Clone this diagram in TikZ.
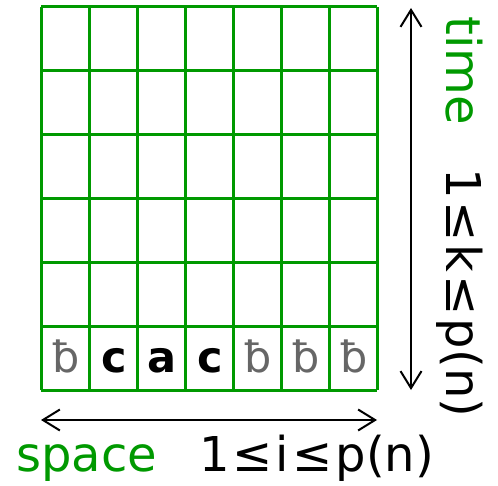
\documentclass[tikz,border=0pt]{standalone}
\usepackage{fontspec}
\setmainfont{DejaVu Sans}
\usetikzlibrary{arrows.meta}
\definecolor{gridgreen}{RGB}{0,153,0}
\definecolor{blankgray}{RGB}{102,102,102}
\newcommand{\leqsp}{\kern3pt≤\kern3pt}
\tikzset{
  gridline/.style={draw=gridgreen, line width=3pt},
  axisarrow/.style={draw=black, line width=2pt, {Straight Barb[length=17pt,width=21pt,line width=2pt]}-{Straight Barb[length=17pt,width=21pt,line width=2pt]}},
  cellsym/.style={font=\fontsize{43}{47}\selectfont, anchor=base, inner sep=0pt},
  blanksym/.style={cellsym, text=blankgray},
  tapesym/.style={cellsym, text=black, font=\fontsize{43}{47}\selectfont\bfseries},
  biglabel/.style={font=\fontsize{48}{54}\selectfont, inner sep=0pt},
}
\begin{document}
\begin{tikzpicture}[x=1pt,y=1pt]
\useasboundingbox (0,0) rectangle (498,485);
% grid
\foreach \i in {0,...,7} {
  \draw[gridline] ({41+48*\i},95) -- ({41+48*\i},478.3);
}
\foreach \j in {0,...,6} {
  \draw[gridline] (41,{95+63.88*\j}) -- (377,{95+63.88*\j});
}
% tape symbols
\node[blanksym] (s1) at (66,112.3) {ƀ};
\node[tapesym]  (s2) at (114,112.3) {c};
\node[tapesym]  (s3) at (162,112.3) {a};
\node[tapesym]  (s4) at (210,112.3) {c};
\node[blanksym] (s5) at (258,112.3) {ƀ};
\node[blanksym] (s6) at (306,112.3) {ƀ};
\node[blanksym] (s7) at (354,112.3) {ƀ};
% arrows
\coordinate (tbot) at (411,95);
\coordinate (ttop) at (411,477);
\coordinate (sleft) at (41,65);
\coordinate (sright) at (377,65);
\draw[axisarrow] (tbot) -- (ttop);
\draw[axisarrow] (sleft) -- (sright);
% labels
\node[biglabel, text=gridgreen, anchor=base west] (space) at (16,13.3) {space};
\node[biglabel, text=black, anchor=base west] (irange) at (199,13.3) {1\leqsp i\leqsp p(n)};
\node[biglabel, text=gridgreen, anchor=base west, rotate=-90] (time) at (446.7,469) {time};
\node[biglabel, text=black, anchor=base west, rotate=-90] (krange) at (446.7,317) {1\leqsp k\leqsp p(n)};
\end{tikzpicture}
\end{document}
